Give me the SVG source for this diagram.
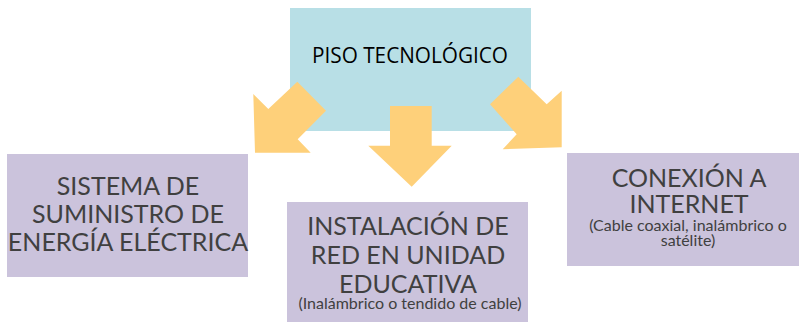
<svg xmlns="http://www.w3.org/2000/svg" width="799" height="324" viewBox="0 0 799 324">
<style>
.box{fill:#cbc3dc}
.arrow{fill:#fed07a}
.t{font-family:Lato,"Liberation Sans",sans-serif;fill:#404040;text-anchor:middle}
.big{font-size:25px}
.small{font-size:16px}
</style>
<rect width="799" height="324" fill="#ffffff"/>
<g id="piso">
<rect x="290" y="8" width="241" height="123" fill="#b8dfe6"/>
<text x="410" y="63" font-family="'Open Sans','Liberation Sans',sans-serif" font-size="21" fill="#000" text-anchor="middle" textLength="196" lengthAdjust="spacingAndGlyphs">PISO TECNOLÓGICO</text>
</g>
<g id="connectors">
<polygon class="arrow" points="297.3,81.7 326,110.7 297.7,139.3 310.7,152.7 255,152.7 253.3,94 268.3,109"/>
<polygon class="arrow" points="390,106 431.7,106 431.7,145.7 451.7,145.7 411.7,186.7 368.3,145.7 390,145.7"/>
<polygon class="arrow" points="518.3,76.7 546.7,104.3 561.7,90.7 561.7,147.3 502.7,149.3 516.7,134.3 490,104.3"/>
</g>
<g id="sistema">
<rect class="box" x="7" y="154" width="241" height="123"/>
<text class="t big" x="128" y="195">SISTEMA DE</text>
<text class="t big" x="128" y="223">SUMINISTRO DE</text>
<text class="t big" x="128" y="251">ENERGÍA ELÉCTRICA</text>
</g>
<g id="instalacion">
<rect class="box" x="287" y="202" width="241" height="120"/>
<text class="t big" x="408" y="235">INSTALACIÓN DE</text>
<text class="t big" x="408" y="264">RED EN UNIDAD</text>
<text class="t big" x="408" y="293">EDUCATIVA</text>
<text class="t small" x="410" y="309">(Inalámbrico o tendido de cable)</text>
</g>
<g id="conexion">
<rect class="box" x="567" y="153" width="232" height="113"/>
<text class="t big" x="689" y="187">CONEXIÓN A</text>
<text class="t big" x="689" y="213">INTERNET</text>
<text class="t small" x="688" y="231">(Cable coaxial, inalámbrico o</text>
<text class="t small" x="688" y="246">satélite)</text>
</g>
</svg>
